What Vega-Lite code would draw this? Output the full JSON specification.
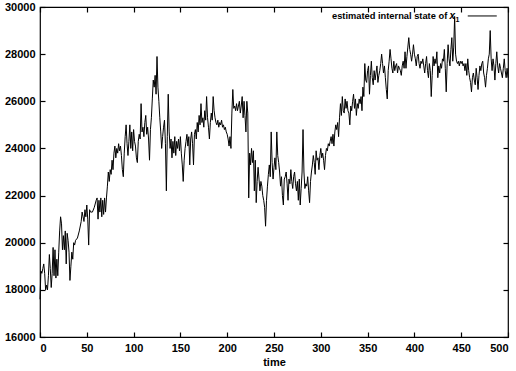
{
"$schema": "https://vega.github.io/schema/vega-lite/v6.json",
"width": 468, "height": 330,
"autosize": {"type": "none"},
"padding": {"left": 40, "top": 7, "right": 8, "bottom": 34},
"config": {
  "view": {"stroke": "black", "strokeWidth": 1.2},
  "font": "Liberation Sans",
  "axis": {"domain": false, "grid": false, "ticks": true, "tickSize": -5, "tickColor": "black", "tickWidth": 1.2,
           "labelFont": "Liberation Sans", "labelFontSize": 11, "labelFontWeight": "bold", "labelColor": "black",
           "titleFont": "Liberation Sans", "titleFontSize": 11, "titleFontWeight": "bold", "titleColor": "black"}
},
"layer": [
  {
    "data": {"values": [
{"t":0,"v":17600},{"t":1,"v":18800},{"t":2,"v":18700},{"t":3,"v":18900},{"t":4,"v":19100},{"t":5,"v":18700},{"t":6,"v":18000},{"t":7,"v":18200},{"t":8,"v":18000},{"t":9,"v":18600},{"t":10,"v":19500},{"t":11,"v":18900},{"t":12,"v":18100},{"t":13,"v":18700},{"t":14,"v":19800},{"t":15,"v":18600},{"t":16,"v":19700},{"t":17,"v":18500},{"t":18,"v":19300},{"t":19,"v":18600},{"t":20,"v":19600},{"t":21,"v":20500},{"t":22,"v":21100},{"t":23,"v":20800},{"t":24,"v":19700},{"t":25,"v":20300},{"t":26,"v":19700},{"t":27,"v":20500},{"t":28,"v":19100},{"t":29,"v":20400},{"t":30,"v":20100},{"t":31,"v":19600},{"t":32,"v":18400},{"t":33,"v":19000},{"t":34,"v":19600},{"t":35,"v":19300},{"t":36,"v":20000},{"t":37,"v":19900},{"t":38,"v":20100},{"t":40,"v":20200},{"t":42,"v":20500},{"t":44,"v":20900},{"t":45,"v":21300},{"t":46,"v":21100},{"t":47,"v":20900},{"t":48,"v":21400},{"t":49,"v":21100},{"t":50,"v":21600},{"t":51,"v":21000},{"t":52,"v":19900},{"t":53,"v":21400},{"t":54,"v":21300},{"t":56,"v":21300},{"t":58,"v":21500},{"t":60,"v":21800},{"t":61,"v":21900},{"t":62,"v":21000},{"t":63,"v":21800},{"t":64,"v":21300},{"t":65,"v":21900},{"t":66,"v":21100},{"t":67,"v":21800},{"t":68,"v":21200},{"t":69,"v":21900},{"t":70,"v":21300},
{"t":71,"v":21900},{"t":72,"v":22400},{"t":73,"v":23000},{"t":74,"v":22600},{"t":75,"v":23100},{"t":76,"v":22900},{"t":77,"v":23500},{"t":78,"v":23100},{"t":79,"v":23800},{"t":80,"v":24100},{"t":81,"v":23600},{"t":82,"v":24000},{"t":83,"v":23800},{"t":84,"v":24200},{"t":85,"v":23900},{"t":86,"v":24100},{"t":87,"v":23700},{"t":88,"v":23100},{"t":89,"v":22800},{"t":90,"v":23800},{"t":91,"v":24500},{"t":92,"v":25000},{"t":93,"v":24200},{"t":94,"v":23700},{"t":95,"v":24300},{"t":96,"v":25000},{"t":97,"v":24000},{"t":98,"v":24700},{"t":99,"v":23900},{"t":100,"v":24800},{"t":101,"v":24300},{"t":102,"v":24100},{"t":103,"v":23600},{"t":104,"v":23400},{"t":105,"v":24300},{"t":106,"v":24600},{"t":107,"v":24400},{"t":108,"v":25900},{"t":109,"v":24700},{"t":110,"v":24900},{"t":111,"v":24500},{"t":112,"v":25100},{"t":113,"v":25400},{"t":114,"v":24600},{"t":115,"v":24900},{"t":116,"v":24400},{"t":117,"v":23500},{"t":118,"v":24800},{"t":119,"v":25300},{"t":120,"v":26100},{"t":121,"v":26900},{"t":122,"v":26600},{"t":123,"v":27100},{"t":124,"v":26300},{"t":125,"v":27900},{"t":126,"v":26600},{"t":127,"v":26000},{"t":128,"v":25300},{"t":129,"v":24700},{"t":130,"v":24000},{"t":131,"v":24500},{"t":132,"v":24900},{"t":133,"v":25200},{"t":134,"v":24200},{"t":135,"v":22200},{"t":136,"v":24500},{"t":137,"v":26300},{"t":138,"v":24700},{"t":139,"v":24000},
{"t":140,"v":24400},{"t":141,"v":23600},{"t":142,"v":24300},{"t":143,"v":23800},{"t":144,"v":24500},{"t":145,"v":23700},{"t":146,"v":24300},{"t":147,"v":24000},{"t":148,"v":24400},{"t":149,"v":23900},{"t":150,"v":24500},{"t":151,"v":23800},{"t":152,"v":23300},{"t":153,"v":22600},{"t":154,"v":23500},{"t":155,"v":24000},{"t":156,"v":24300},{"t":157,"v":24600},{"t":158,"v":24100},{"t":159,"v":24500},{"t":160,"v":23300},{"t":161,"v":24400},{"t":162,"v":24700},{"t":163,"v":24200},{"t":164,"v":23300},{"t":165,"v":24600},{"t":166,"v":24800},{"t":167,"v":24400},{"t":168,"v":25100},{"t":169,"v":24700},{"t":170,"v":25400},{"t":171,"v":25000},{"t":172,"v":25900},{"t":173,"v":25100},{"t":174,"v":25300},{"t":175,"v":24900},{"t":176,"v":25600},{"t":177,"v":25200},{"t":178,"v":26200},{"t":179,"v":25300},{"t":180,"v":24900},{"t":181,"v":24400},{"t":182,"v":25100},{"t":183,"v":25500},{"t":184,"v":25200},{"t":185,"v":26200},{"t":186,"v":25600},{"t":187,"v":25300},{"t":188,"v":25100},{"t":189,"v":25000},{"t":190,"v":25200},{"t":191,"v":24900},{"t":192,"v":25100},{"t":193,"v":25000},{"t":194,"v":25200},{"t":195,"v":24900},{"t":196,"v":25000},{"t":197,"v":24800},{"t":198,"v":24900},{"t":199,"v":24700},{"t":200,"v":24600},{"t":201,"v":24400},{"t":202,"v":24100},{"t":203,"v":24500},{"t":204,"v":24000},{"t":205,"v":25500},{"t":206,"v":26500},{"t":207,"v":25700},{"t":208,"v":25800},{"t":209,"v":25600},{"t":210,"v":25900},{"t":211,"v":25600},{"t":212,"v":25800},{"t":213,"v":26000},{"t":214,"v":25500},{"t":215,"v":25800},{"t":216,"v":26200},{"t":217,"v":25300},{"t":218,"v":26000},{"t":219,"v":25400},{"t":220,"v":24700},{"t":221,"v":26000},{"t":222,"v":25500},{"t":223,"v":21900},{"t":224,"v":23800},{"t":225,"v":23300},{"t":226,"v":24000},{"t":227,"v":23400},{"t":228,"v":23900},{"t":229,"v":22200},{"t":230,"v":23500},{"t":231,"v":21700},{"t":232,"v":22600},{"t":233,"v":23200},{"t":234,"v":22700},{"t":235,"v":22200},{"t":236,"v":22600},{"t":237,"v":22400},{"t":238,"v":22000},{"t":239,"v":21800},{"t":240,"v":21500},{"t":241,"v":20700},{"t":242,"v":21800},{"t":243,"v":22400},{"t":244,"v":22900},{"t":245,"v":23300},{"t":246,"v":22800},{"t":247,"v":24700},{"t":248,"v":23400},{"t":249,"v":22700},{"t":250,"v":23200},{"t":251,"v":23600},{"t":252,"v":23100},{"t":253,"v":24700},{"t":254,"v":23700},{"t":255,"v":23400},{"t":256,"v":23000},{"t":257,"v":22400},{"t":258,"v":22800},{"t":259,"v":22000},{"t":260,"v":21600},{"t":261,"v":22700},{"t":262,"v":22800},{"t":263,"v":23000},{"t":264,"v":22500},{"t":265,"v":21800},{"t":266,"v":22700},{"t":267,"v":22500},{"t":268,"v":23100},{"t":269,"v":22600},{"t":270,"v":22300},{"t":271,"v":22800},{"t":272,"v":23000},{"t":273,"v":22500},{"t":274,"v":22200},{"t":275,"v":22600},{"t":276,"v":21800},{"t":277,"v":22700},{"t":278,"v":21600},{"t":279,"v":22300},{"t":280,"v":23000},{"t":281,"v":24800},{"t":282,"v":23000},{"t":283,"v":22300},{"t":284,"v":22500},{"t":285,"v":22400},{"t":286,"v":22800},{"t":287,"v":22200},{"t":288,"v":21700},{"t":289,"v":22600},{"t":290,"v":23000},{"t":291,"v":23300},{"t":292,"v":23700},{"t":293,"v":23400},{"t":294,"v":22900},{"t":295,"v":23900},{"t":296,"v":23500},{"t":297,"v":23600},{"t":298,"v":23100},{"t":299,"v":23700},{"t":300,"v":24000},{"t":301,"v":23600},{"t":302,"v":23800},{"t":303,"v":23500},{"t":304,"v":23100},{"t":305,"v":23700},{"t":306,"v":24000},{"t":307,"v":23900},{"t":308,"v":24200},{"t":309,"v":24100},{"t":310,"v":24300},{"t":311,"v":24500},{"t":312,"v":24200},{"t":313,"v":24600},{"t":314,"v":24100},{"t":315,"v":24700},{"t":316,"v":25000},{"t":317,"v":24800},{"t":318,"v":25100},{"t":319,"v":24500},{"t":320,"v":25300},{"t":321,"v":25900},{"t":322,"v":25400},{"t":323,"v":26200},{"t":324,"v":25600},{"t":325,"v":25500},{"t":326,"v":26100},{"t":327,"v":25700},{"t":328,"v":26000},{"t":329,"v":25600},{"t":330,"v":25500},{"t":331,"v":25000},{"t":332,"v":25800},{"t":333,"v":25600},{"t":334,"v":26000},{"t":335,"v":26300},{"t":336,"v":25700},{"t":337,"v":26100},{"t":338,"v":25400},{"t":339,"v":25900},{"t":340,"v":25700},{"t":341,"v":26100},{"t":342,"v":25900},{"t":343,"v":26200},{"t":344,"v":25600},{"t":345,"v":26600},{"t":346,"v":26200},{"t":347,"v":27600},{"t":348,"v":26900},{"t":349,"v":26800},{"t":350,"v":27300},{"t":351,"v":27500},{"t":352,"v":26300},{"t":353,"v":27100},{"t":354,"v":27700},{"t":355,"v":27000},{"t":356,"v":26700},{"t":357,"v":27300},{"t":358,"v":26900},{"t":359,"v":27200},{"t":360,"v":27500},{"t":361,"v":26800},{"t":362,"v":27100},{"t":363,"v":27300},{"t":364,"v":27600},{"t":365,"v":28000},{"t":366,"v":27600},{"t":367,"v":27200},{"t":368,"v":27500},{"t":369,"v":27000},{"t":370,"v":26500},{"t":371,"v":26100},{"t":372,"v":27300},{"t":373,"v":27700},{"t":374,"v":28200},{"t":375,"v":27800},{"t":376,"v":27400},{"t":377,"v":27200},{"t":378,"v":27700},{"t":379,"v":27300},{"t":380,"v":27500},{"t":381,"v":27600},{"t":382,"v":27200},{"t":383,"v":27500},{"t":384,"v":27400},{"t":385,"v":27300},{"t":386,"v":27100},{"t":387,"v":27500},{"t":388,"v":27700},{"t":389,"v":27400},{"t":390,"v":28100},{"t":391,"v":27400},{"t":392,"v":27900},{"t":393,"v":28300},{"t":394,"v":28700},{"t":395,"v":28200},{"t":396,"v":28000},{"t":397,"v":27700},{"t":398,"v":28000},{"t":399,"v":28400},{"t":400,"v":28000},{"t":401,"v":27800},{"t":402,"v":27500},{"t":403,"v":27900},{"t":404,"v":28000},{"t":405,"v":27600},{"t":406,"v":27400},{"t":407,"v":27700},{"t":408,"v":27600},{"t":409,"v":27800},{"t":410,"v":27500},{"t":411,"v":27200},{"t":412,"v":27600},{"t":413,"v":27900},{"t":414,"v":27300},{"t":415,"v":27000},{"t":416,"v":27600},{"t":417,"v":27300},{"t":418,"v":26200},{"t":419,"v":27100},{"t":420,"v":27900},{"t":421,"v":27500},{"t":422,"v":27800},{"t":423,"v":27600},{"t":424,"v":28100},{"t":425,"v":27000},{"t":426,"v":27500},{"t":427,"v":27200},{"t":428,"v":27600},{"t":429,"v":27400},{"t":430,"v":27800},{"t":431,"v":27700},{"t":432,"v":28200},{"t":433,"v":27400},{"t":434,"v":26400},{"t":435,"v":27600},{"t":436,"v":28400},{"t":437,"v":27800},{"t":438,"v":27500},{"t":439,"v":28200},{"t":440,"v":28700},{"t":441,"v":27700},{"t":442,"v":28300},{"t":443,"v":29600},{"t":444,"v":28000},{"t":445,"v":27700},{"t":446,"v":27600},{"t":447,"v":27700},{"t":448,"v":27500},{"t":449,"v":27700},{"t":450,"v":27600},{"t":451,"v":27700},{"t":452,"v":27500},{"t":453,"v":27600},{"t":454,"v":27300},{"t":455,"v":27600},{"t":456,"v":27100},{"t":457,"v":27800},{"t":458,"v":27300},{"t":459,"v":27000},{"t":460,"v":26800},{"t":461,"v":26400},{"t":462,"v":27000},{"t":463,"v":27200},{"t":464,"v":26900},{"t":465,"v":26700},{"t":466,"v":27400},{"t":467,"v":27000},{"t":468,"v":26500},{"t":469,"v":27100},{"t":470,"v":27500},{"t":471,"v":27300},{"t":472,"v":27600},{"t":473,"v":27700},{"t":474,"v":27200},{"t":475,"v":27000},{"t":476,"v":26600},{"t":477,"v":27100},{"t":478,"v":27400},{"t":479,"v":27800},{"t":480,"v":28000},{"t":481,"v":29000},{"t":482,"v":27800},{"t":483,"v":27300},{"t":484,"v":27800},{"t":485,"v":27500},{"t":486,"v":26900},{"t":487,"v":27600},{"t":488,"v":28100},{"t":489,"v":27500},{"t":490,"v":27200},{"t":491,"v":27600},{"t":492,"v":27400},{"t":493,"v":27200},{"t":494,"v":27000},{"t":495,"v":27400},{"t":496,"v":27800},{"t":497,"v":27300},{"t":498,"v":27000},{"t":499,"v":27400},{"t":500,"v":27000}
    ]},
    "mark": {"type": "line", "color": "black", "strokeWidth": 1},
    "encoding": {
      "x": {"field": "t", "type": "quantitative", "scale": {"domain": [0, 500], "nice": false},
            "axis": {"values": [0,50,100,150,200,250,300,350,400,450,500], "title": "time", "labelPadding": 10, "titlePadding": 3}},
      "y": {"field": "v", "type": "quantitative", "scale": {"domain": [16000, 30000], "nice": false, "zero": false},
            "axis": {"values": [16000,18000,20000,22000,24000,26000,28000,30000], "format": "d", "title": null, "labelPadding": 10}}
    }
  },
  {
    "data": {"values": [{"t": 0, "v": 16000}]},
    "mark": {"type": "point", "opacity": 0},
    "encoding": {
      "x": {"field": "t", "type": "quantitative", "axis": {"orient": "top", "values": [0,50,100,150,200,250,300,350,400,450,500], "labels": false, "title": null}},
      "y": {"field": "v", "type": "quantitative", "axis": {"orient": "right", "values": [16000,18000,20000,22000,24000,26000,28000,30000], "labels": false, "title": null}}
    }
  },
  {
    "data": {"values": [{"t": 312, "v": 29620, "label": "estimated internal state of"}]},
    "mark": {"type": "text", "align": "left", "baseline": "middle", "font": "Liberation Sans", "fontSize": 9.3, "fontWeight": "bold", "color": "black"},
    "encoding": {
      "x": {"field": "t", "type": "quantitative", "axis": null},
      "y": {"field": "v", "type": "quantitative", "axis": null},
      "text": {"field": "label"}
    }
  },
  {
    "data": {"values": [{"t": 437.5, "v": 29620, "label": "x"}]},
    "mark": {"type": "text", "align": "left", "baseline": "middle", "font": "Liberation Sans", "fontSize": 10, "fontStyle": "italic", "fontWeight": "bold", "color": "black"},
    "encoding": {
      "x": {"field": "t", "type": "quantitative", "axis": null},
      "y": {"field": "v", "type": "quantitative", "axis": null},
      "text": {"field": "label"}
    }
  },
  {
    "data": {"values": [{"t": 444, "v": 29450, "label": "1"}]},
    "mark": {"type": "text", "align": "left", "baseline": "middle", "font": "Liberation Sans", "fontSize": 7, "fontWeight": "bold", "color": "black"},
    "encoding": {
      "x": {"field": "t", "type": "quantitative", "axis": null},
      "y": {"field": "v", "type": "quantitative", "axis": null},
      "text": {"field": "label"}
    }
  },
  {
    "data": {"values": [{"t": 457, "t2": 488, "v": 29620}]},
    "mark": {"type": "rule", "color": "black", "strokeWidth": 1},
    "encoding": {
      "x": {"field": "t", "type": "quantitative", "axis": null},
      "x2": {"field": "t2"},
      "y": {"field": "v", "type": "quantitative", "axis": null}
    }
  }
],
"resolve": {"axis": {"x": "independent", "y": "independent"}}
}
